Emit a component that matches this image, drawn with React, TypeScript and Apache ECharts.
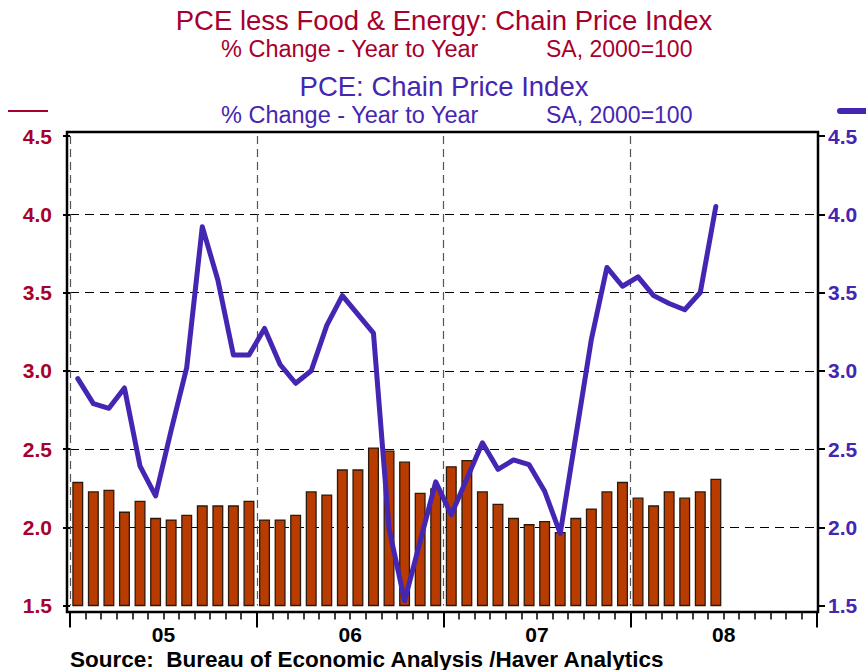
import React, { useEffect, useRef } from "react";
import * as echarts from "echarts";

// Monthly, Jan 2005 - Jun 2008
const coreValues = [
  2.29, 2.23, 2.24, 2.10, 2.17, 2.06, 2.05, 2.08, 2.14, 2.14, 2.14, 2.17,
  2.05, 2.05, 2.08, 2.23, 2.21, 2.37, 2.37, 2.51, 2.49, 2.42, 2.22, 2.25,
  2.39, 2.43, 2.23, 2.15, 2.06, 2.02, 2.04, 1.97, 2.06, 2.12, 2.23, 2.29,
  2.19, 2.14, 2.23, 2.19, 2.23, 2.31,
];
const pceValues = [
  2.95, 2.79, 2.76, 2.89, 2.39, 2.20, 2.62, 3.02, 3.92, 3.58, 3.10, 3.10,
  3.27, 3.04, 2.92, 3.00, 3.29, 3.48, 3.36, 3.24, 1.99, 1.53, 1.91, 2.29,
  2.08, 2.31, 2.54, 2.37, 2.43, 2.40, 2.23, 1.96, 2.58, 3.20, 3.66, 3.54,
  3.60, 3.48, 3.43, 3.39, 3.50, 4.05,
];
const yearLabels = ["05", "06", "07", "08"];
const monthsShown = 48;

const RED = "#A8002C";
const PURPLE = "#4526B2";
const FONT = "'Liberation Sans', Arial, Helvetica, sans-serif";

export default function App() {
  const ref = useRef<HTMLDivElement>(null);
  useEffect(() => {
    if (!ref.current) return;
    const chart = echarts.init(ref.current, null, { renderer: "svg" });
    const barData = coreValues.map((v, i) => [i + 0.5, v]);
    const lineData = pceValues.map((v, i) => [i + 0.5, v]);
    const txt = (text: string, x: number, y: number, size: number, color: string, align: string, weight = "normal") => ({
      type: "text",
      x,
      y,
      style: {
        text,
        fill: color,
        font: `${weight} ${size}px ${FONT}`,
        lineHeight: size,
        textAlign: align,
        textVerticalAlign: "middle",
      },
    });
    chart.setOption({
      animation: false,
      textStyle: { fontFamily: FONT },
      grid: { left: 70, right: 49, top: 136, bottom: 64.5, containLabel: false },
      xAxis: [
        {
          type: "value",
          min: 0,
          max: monthsShown,
          interval: 12,
          offset: 6,
          axisLine: { show: false },
          axisTick: { show: true, length: 16, lineStyle: { color: "#000", width: 2 } },
          minorTick: { show: true, splitNumber: 12, length: 8, lineStyle: { color: "#000", width: 1.5 } },
          axisLabel: { show: false },
          splitLine: {
            show: true,
            showMaxLine: false,
            lineStyle: { color: "#555", type: [8, 5], width: 1.2 },
          },
        },
        {
          type: "category",
          data: yearLabels,
          position: "bottom",
          offset: 6,
          boundaryGap: true,
          axisLine: { show: false },
          axisTick: { show: false },
          axisLabel: { margin: 12, fontSize: 21, fontWeight: "bold", color: "#000", fontFamily: FONT },
          splitLine: { show: false },
        },
      ],
      yAxis: [
        {
          type: "value",
          min: 1.5,
          max: 4.5,
          interval: 0.5,
          position: "left",
          offset: 3,
          axisLine: { show: false },
          axisTick: { show: true, length: 7, lineStyle: { color: "#000", width: 2 } },
          axisLabel: {
            margin: 15,
            fontSize: 21,
            fontWeight: "bold",
            color: RED,
            fontFamily: FONT,
            formatter: (v: number) => v.toFixed(1),
          },
          splitLine: {
            show: true,
            showMinLine: false,
            showMaxLine: false,
            lineStyle: { color: "#000", type: [9, 6], width: 1.1 },
          },
        },
        {
          type: "value",
          min: 1.5,
          max: 4.5,
          interval: 0.5,
          position: "right",
          offset: 1,
          axisLine: { show: false },
          axisTick: { show: true, length: 7, lineStyle: { color: "#000", width: 2 } },
          axisLabel: {
            margin: 10,
            fontSize: 21,
            fontWeight: "bold",
            color: PURPLE,
            fontFamily: FONT,
            formatter: (v: number) => v.toFixed(1),
          },
          splitLine: { show: false },
        },
      ],
      series: [
        {
          type: "bar",
          xAxisIndex: 0,
          yAxisIndex: 0,
          data: barData,
          barWidth: 11,
          itemStyle: { color: "#B83C00", borderColor: "#2e1a0c", borderWidth: 1.3 },
          z: 2,
        },
        {
          type: "line",
          xAxisIndex: 0,
          yAxisIndex: 1,
          data: lineData,
          symbol: "none",
          lineStyle: { color: PURPLE, width: 5, cap: "round", join: "round" },
          z: 3,
        },
      ],
      graphic: [
        {
          type: "rect",
          shape: { x: 67, y: 132, width: 751, height: 480 },
          style: { fill: "none", stroke: "#000", lineWidth: 2.5 },
          z: 10,
        },
        txt("PCE less Food & Energy: Chain Price Index", 444, 20, 27.5, RED, "center"),
        txt("% Change - Year to Year", 221, 48.5, 23.5, RED, "left"),
        txt("SA, 2000=100", 546, 48.5, 23, RED, "left"),
        txt("PCE: Chain Price Index", 444, 86, 27.5, PURPLE, "center"),
        txt("% Change - Year to Year", 221, 114.5, 23.5, PURPLE, "left"),
        txt("SA, 2000=100", 546, 114.5, 23, PURPLE, "left"),
        {
          type: "line",
          shape: { x1: 8, y1: 111, x2: 48, y2: 111 },
          style: { stroke: RED, lineWidth: 2 },
        },
        {
          type: "line",
          shape: { x1: 840, y1: 111, x2: 870, y2: 111 },
          style: { stroke: PURPLE, lineWidth: 6, lineCap: "round" },
        },
        txt("Source:  Bureau of Economic Analysis /Haver Analytics", 70, 659, 22.5, "#000", "left", "bold"),
      ],
    });
    return () => chart.dispose();
  }, []);
  return (
    <div
      ref={ref}
      style={{ position: "fixed", left: 0, top: 0, width: 866, height: 670, background: "#fff" }}
    />
  );
}
